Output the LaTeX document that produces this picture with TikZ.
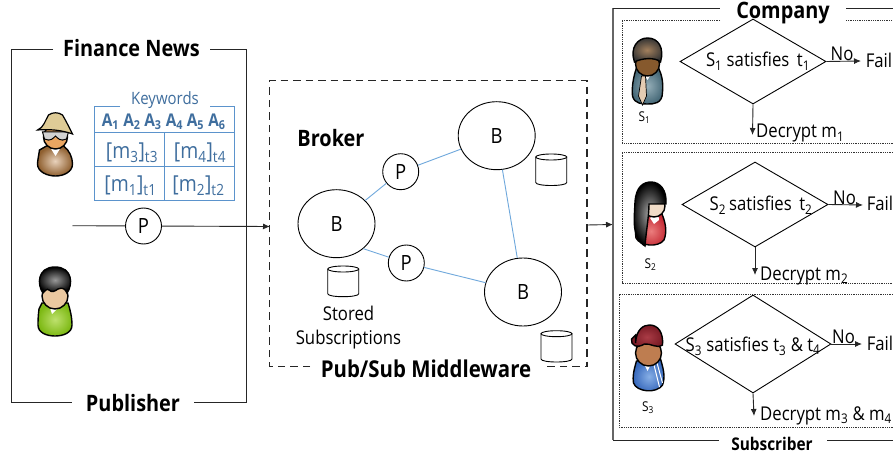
\documentclass[tikz,border=0pt]{standalone}
\usepackage{fontspec}
\setmainfont[FakeStretch=0.88]{Open Sans}
\usetikzlibrary{shapes.geometric,arrows.meta}
\definecolor{tblue}{HTML}{3F6E9E}
\definecolor{lblue}{HTML}{5B93CC}
\definecolor{linkblue}{HTML}{6FA8DC}
\newcommand{\sbs}[1]{\textsubscript{#1}}
\newcommand{\fs}[1]{\fontsize{#1}{#1}\selectfont}
\tikzset{
  x=1pt,y=-1pt,
  frame/.style={draw=black!85,line width=0.9pt},
  lab/.style={inner sep=0,font=\fs{19}},
  head/.style={inner sep=0,font=\fs{22.6}\bfseries},
  bnode/.style={circle,draw,line width=0.9pt,fill=white,minimum size=36pt,inner sep=0,font=\fs{21}},
  bb/.style={ellipse,draw,line width=0.9pt,fill=white,minimum width=77pt,minimum height=68pt,inner sep=0,font=\fs{21}},
  link/.style={draw=linkblue,line width=0.9pt},
  arr/.style={draw=black!85,line width=0.9pt,-{Latex[length=7pt,width=6pt]}},
  dec/.style={diamond,draw,line width=0.9pt,inner sep=0},
  dots/.style={draw=black!80,line width=0.8pt,densely dotted},
  pbody/.style={draw=black,line width=1.4pt},
  tcell/.style={inner sep=0,text=tblue,font=\fs{22}},
  thead/.style={inner sep=0,text=tblue,font=\fs{17.5}\bfseries},
  sname/.style={inner sep=0,font=\fs{13.5}},
  db/.style={draw,line width=0.9pt,fill=white}
}
\newcommand{\cyl}[4]{% x1 x2 ytop ybot
  \draw[db] (#1,#3+3) -- (#1,#4-3) .. controls (#1,#4+1) and (#2,#4+1) .. (#2,#4-3) -- (#2,#3+3);
  \draw[db] (#1+15.5,#3+3) ellipse [x radius=15.5,y radius=3];
}
\begin{document}
\begin{tikzpicture}
\useasboundingbox (0,0) rectangle (893,454);
\fill[white] (0,0) rectangle (893,454);

% Publisher frame
\draw[frame] (53,49) -- (11.7,49) -- (11.7,402) -- (72,402);
\draw[frame] (210,49) -- (246.7,49) -- (246.7,402) -- (194,402);
\node[head] (finance) at (131.5,48.5) {Finance News};
\node[head] (publisher) at (133,403.5) {Publisher};

% Keyword table
\draw[draw=lblue,line width=0.9pt] (120,106) -- (94.3,106) -- (94.3,200) -- (234.5,200) -- (234.5,106) -- (210,106);
\draw[draw=lblue,line width=0.9pt] (94.3,132.5) -- (234.5,132.5) (94.3,166.3) -- (234.5,166.3) (164.7,132.5) -- (164.7,200);
\node[inner sep=0,text=tblue,font=\fs{17}] (kw) at (165,100.5) {Keywords};
\node[thead] (a1) at (110.5,121.5) {A\sbs{1}};
\node[thead] (a2) at (132,121.5) {A\sbs{2}};
\node[thead] (a3) at (153,121.5) {A\sbs{3}};
\node[thead] (a4) at (174.5,121.5) {A\sbs{4}};
\node[thead] (a5) at (195.5,121.5) {A\sbs{5}};
\node[thead] (a6) at (217,121.5) {A\sbs{6}};
\node[tcell] (m3) at (132,153) {[m\sbs{3}]\sbs{t3}};
\node[tcell] (m4) at (200,153) {[m\sbs{4}]\sbs{t4}};
\node[tcell] (m1) at (130.5,185.5) {[m\sbs{1}]\sbs{t1}};
\node[tcell] (m2) at (198.5,185.5) {[m\sbs{2}]\sbs{t2}};

% Publisher persons
\begin{scope}[shift={(55.5,112)}]
  \shade[pbody,inner color=brown!35!white,outer color=brown!75!black] (-16,38) .. controls (-17,44) and (-18,50) .. (-18,52) .. controls (-18,60) and (-8,64) .. (0,64) .. controls (8,64) and (17,60) .. (17,52) .. controls (17,46) and (14,38) .. (8,34) -- (-9,34) -- cycle;
  \fill[white] (-5,36) -- (0,44) -- (5,36) -- cycle;
  \draw[pbody,fill=orange!55!brown!70!white] (0,25) circle [radius=12];
  \draw[black,line width=1pt,fill=gray!35] (-13,20) -- (13,20) -- (11,27) .. controls (5,30) and (2,26) .. (0,24) .. controls (-2,26) and (-5,30) .. (-11,27) -- cycle;
  \draw[pbody,line width=1.2pt,fill={rgb,255:red,222;green,203;blue,150}] (-18,18) .. controls (-12,16) and (-10,8) .. (-7,3) .. controls (-3,0) and (3,0) .. (7,3) .. controls (10,8) and (13,14) .. (17,22) .. controls (6,18) and (-6,17) .. (-18,18) -- cycle;
\end{scope}
\begin{scope}[shift={(55,267)}]
  \shade[pbody,inner color={rgb,255:red,190;green,225;blue,110},outer color={rgb,255:red,125;green,185;blue,20}] (-16,42) .. controls (-17,50) and (-17,55) .. (-17,58) .. controls (-17,66) and (-8,69) .. (0,69) .. controls (8,69) and (17,66) .. (17,58) .. controls (17,50) and (15,42) .. (13,36) -- (-13,36) -- cycle;
  \fill[white] (-6,38) -- (-3,47) -- (4,40) -- cycle;
  \draw[pbody,fill={rgb,255:red,235;green,200;blue,160}] (0,29) circle [radius=13];
  \shade[pbody,inner color=gray!80,outer color=black] (-12,26) .. controls (-18,18) and (-18,0) .. (0,0) .. controls (18,0) and (18,18) .. (12,26) .. controls (10,22) and (8,20) .. (3,22) .. controls (0,24) and (-3,26) .. (-6,23) .. controls (-8,21) and (-10,24) .. (-12,26) -- cycle;
\end{scope}

% Publish path
\coordinate (pubstart) at (72.5,225.7);
\coordinate (mwin) at (270,226.5);
\node[bnode] (pubp) at (143.5,226) {P};
\draw[frame] (pubstart) -- (pubp);
\draw[arr] (pubp) -- (mwin);

% Middleware
\draw[frame,line width=1.2pt,dash pattern=on 7.5pt off 5pt] (310,366.7) -- (269.5,366.7) -- (269.5,80.7) -- (587,80.7) -- (587,366.7) -- (543,366.7);
\node[head,font=\fs{23.2}\bfseries] (middleware) at (426,368.5) {Pub/Sub Middleware};
\node[head] (broker) at (331,138.5) {Broker};
\node[bb] (b1) at (336.5,223.7) {B};
\node[bb] (b2) at (496.7,135.7) {B};
\node[bb] (b3) at (523,292) {B};
\node[bnode] (p1) at (400.7,171.7) {P};
\node[bnode] (p2) at (406.3,263) {P};
\draw[link] (b1) -- (p1);
\draw[link] (p1) -- (b2);
\draw[link] (b1.-43) -- (p2);
\draw[link] (p2) -- (b3);
\draw[link] (b2) -- (b3);
\cyl{327.7}{358.7}{266}{296.7}
\cyl{535.7}{566.7}{154}{185.5}
\cyl{541}{572}{330.7}{362}
\node[lab,align=center] (stored) at (348.5,327.5) {Stored\\[5pt]Subscriptions};

% Link to subscribers
\coordinate (mwout) at (587,225);
\coordinate (subin) at (613,224.5);
\draw[arr] (mwout) -- (subin);

% Subscriber frame
\draw[draw=black!60,line width=1.6pt] (613,8) -- (613,440);
\draw[frame] (613,8) -- (720,8) (846,8) -- (893,8) (613,440) -- (719,440) (827,440) -- (893,440);
\node[head] (company) at (783,13.5) {Company};
\node[head,font=\fs{17.5}\bfseries] (subscriber) at (772,443.5) {Subscriber};

% Dotted panels
\draw[dots] (720,20) -- (622,20) -- (622,143) -- (893,143) (846,20) -- (893,20);
\draw[dots] (893,152) -- (622,152) -- (622,283) -- (893,283);
\draw[dots] (893,294) -- (619,294) -- (619,427) -- (893,427);

% Decisions
\node[dec,minimum width=146pt,minimum height=85pt] (d1) at (753,61.5) {};
\node[dec,minimum width=146pt,minimum height=85pt] (d2) at (755,204.5) {};
\node[dec,minimum width=156pt,minimum height=98pt] (d3) at (753,344) {};
\node[lab] (t1) at (758,61) {S\sbs{1} satisfies\, t\sbs{1}};
\node[lab] (t2) at (761,205) {S\sbs{2}\,satisfies\, t\sbs{2}};
\node[lab] (t3) at (753,346) {S\sbs{3} satisfies t\sbs{3} \& t\sbs{4}};

\coordinate (f1) at (861,61);
\coordinate (f2) at (863,205);
\coordinate (f3) at (862,344);
\coordinate (e1) at (752.5,135);
\coordinate (e2) at (755,275);
\coordinate (e3) at (754,416);
\draw[arr] (d1.east) -- (f1);
\draw[arr] (d2.east) -- (f2);
\draw[arr] (d3.east) -- (f3);
\draw[arr] (d1.south) -- (e1);
\draw[arr] (d2.south) -- (e2);
\draw[arr] (d3.south) -- (e3);
\node[lab] (n1) at (842,53.5) {No};
\node[lab] (n2) at (844.5,197.5) {No};
\node[lab] (n3) at (843.5,336.5) {No};
\node[lab] (x1) at (879,60) {Fail};
\node[lab] (x2) at (880,203.5) {Fail};
\node[lab] (x3) at (880,343) {Fail};
\node[lab,anchor=west] (r1) at (756,133.5) {Decrypt m\sbs{1}};
\node[lab,anchor=west] (r2) at (760,275.5) {Decrypt m\sbs{2}};
\node[lab,anchor=west] (r3) at (760,415.5) {Decrypt m\sbs{3} \& m\sbs{4}};
\node[sname] (s1) at (644.5,118) {S\sbs{1}};
\node[sname] (s2) at (650.5,265) {S\sbs{2}};
\node[sname] (s3) at (648,408) {S\sbs{3}};

% S1 person
\begin{scope}[shift={(647.5,38)}]
  \shade[pbody,inner color={rgb,255:red,150;green,175;blue,185},outer color={rgb,255:red,70;green,105;blue,120}] (-11,30) .. controls (-14,38) and (-16,50) .. (-15,58) .. controls (-13,66) and (-5,66) .. (0,66) .. controls (6,66) and (15,66) .. (15,54) .. controls (16,44) and (14,36) .. (11,30) -- cycle;
  \fill[white] (-5,34) -- (5,34) -- (0,42) -- cycle;
  \draw[black,line width=0.7pt,fill=brown!40!white] (-6,38) -- (-2,38) -- (-1,58) -- (-5,67) -- (-9,58) -- cycle;
  \draw[pbody,fill=brown!70!black] (0,26) circle [radius=12];
  \shade[pbody,inner color=brown!55!gray,outer color=black!80] (-13,24) .. controls (-18,10) and (-10,0) .. (0,0) .. controls (11,0) and (17,10) .. (13,24) .. controls (8,19) and (-6,20) .. (-13,24) -- cycle;
\end{scope}
% S2 person
\begin{scope}[shift={(650,182)}]
  \shade[pbody,inner color={rgb,255:red,235;green,125;blue,125},outer color={rgb,255:red,195;green,40;blue,50}] (-12,34) .. controls (-15,44) and (-15,50) .. (-14,56) .. controls (-10,64) and (8,66) .. (14,58) .. controls (17,50) and (16,42) .. (12,32) -- cycle;
  \fill[white] (0,36) -- (8,30) -- (9,38) -- (4,42) -- cycle;
  \draw[pbody,fill={rgb,255:red,240;green,220;blue,200}] (4,24) circle [radius=11];
  \shade[pbody,inner color=gray!70,outer color=black] (-5,64) .. controls (-18,56) and (-16,40) .. (-15,20) .. controls (-14,4) and (-6,0) .. (1,0) .. controls (10,0) and (17,8) .. (16,22) -- (-1,22) .. controls (-1,34) and (-4,50) .. (-5,64) -- cycle;
\end{scope}
% S3 person
\begin{scope}[shift={(648.5,325)}]
  \shade[pbody,inner color={rgb,255:red,135;green,175;blue,230},outer color={rgb,255:red,50;green,100;blue,185}] (-12,36) .. controls (-15,46) and (-16,52) .. (-15,58) .. controls (-12,67) and (8,69) .. (14,60) .. controls (17,52) and (15,44) .. (12,34) -- cycle;
  \draw[white,line width=1pt] (5,38) -- (11,62) (8,36) -- (14,58);
  \fill[white] (-5,38) -- (-1,46) -- (3,38) -- cycle;
  \draw[pbody,fill={rgb,255:red,190;green,125;blue,80}] (0,28) circle [radius=13];
  \shade[pbody,inner color={rgb,255:red,170;green,60;blue,70},outer color={rgb,255:red,120;green,25;blue,35}] (-13,18) .. controls (-12,4) and (-5,0) .. (1,0) .. controls (10,0) and (15,8) .. (14,20) .. controls (8,24) and (2,18) .. (-4,19) .. controls (-12,24) and (-18,20) .. (-17,14) .. controls (-16,12) and (-14,12) .. (-13,10) -- cycle;
\end{scope}
\end{tikzpicture}
\end{document}
